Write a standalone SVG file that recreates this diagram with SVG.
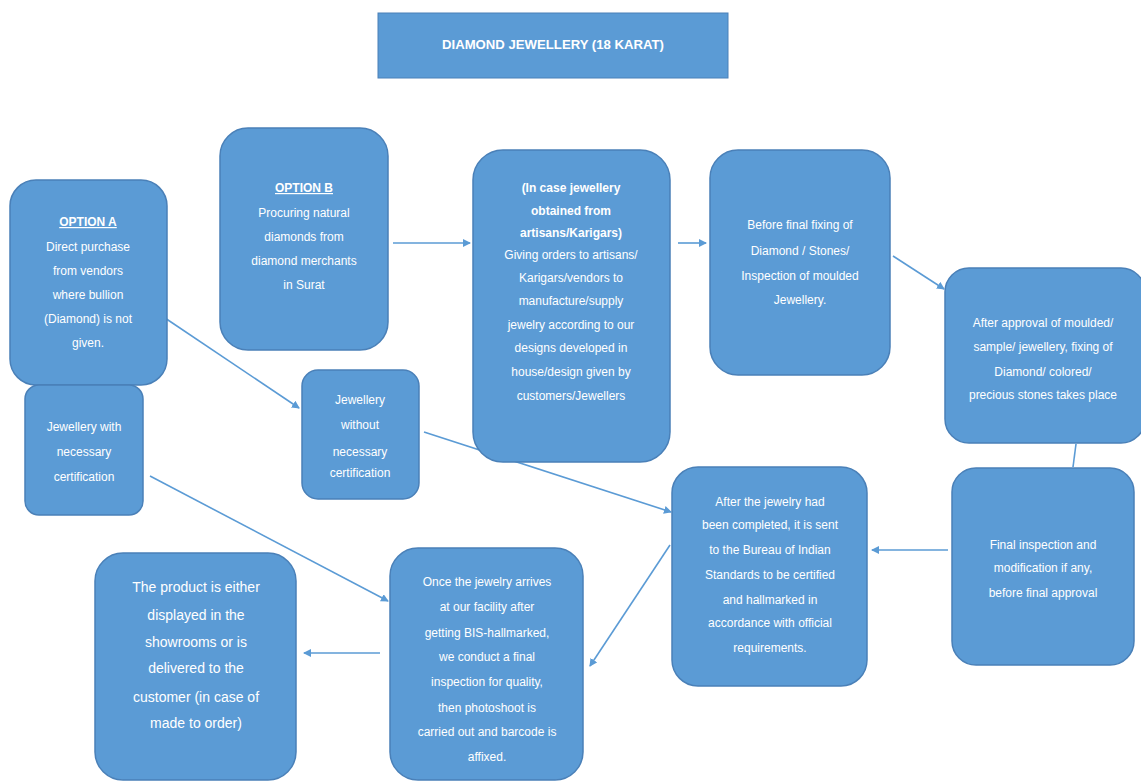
<svg xmlns="http://www.w3.org/2000/svg" width="1141" height="783" viewBox="0 0 1141 783">
<style>
.box{fill:#5b9bd5;stroke:#4a80b8;stroke-width:1.5}
.t{font-family:"Liberation Sans",Arial,sans-serif;font-size:12px;fill:#ffffff;text-anchor:middle}
.b{font-weight:bold}
.u{text-decoration:underline}
.big{font-size:14px}
.c{stroke:#5b9bd5;stroke-width:1.6;fill:none;marker-end:url(#ah)}
</style>
<defs>
<marker id="ah" markerWidth="8" markerHeight="8" refX="7" refY="4" orient="auto" markerUnits="userSpaceOnUse">
<path d="M0,0 L8,4 L0,8 z" fill="#5b9bd5"/>
</marker>
</defs>
<rect width="1141" height="783" fill="#ffffff"/>

<g id="connectors">
<line class="c" x1="393" y1="243" x2="470" y2="243"/>
<line class="c" x1="678" y1="243" x2="706" y2="243"/>
<line class="c" x1="893" y1="256" x2="944" y2="289"/>
<line x1="1076" y1="444" x2="1073" y2="467" stroke="#5b9bd5" stroke-width="1.6"/>
<line class="c" x1="948" y1="550" x2="872" y2="550"/>
<line class="c" x1="670" y1="545" x2="590" y2="666"/>
<line class="c" x1="380" y1="653" x2="304" y2="653"/>
<line class="c" x1="165" y1="318" x2="299" y2="408"/>
<line class="c" x1="424" y1="432" x2="671" y2="512"/>
<line class="c" x1="150" y1="476" x2="388" y2="601"/>
</g>

<g id="title">
<rect x="378" y="13" width="350" height="65" fill="#5b9bd5" stroke="#4a80b8" stroke-width="1"/>
<text class="t b" x="553" y="49" font-size="11.5" textLength="222" lengthAdjust="spacingAndGlyphs">DIAMOND JEWELLERY (18 KARAT)</text>
</g>

<g id="optionA">
<rect class="box" x="10" y="180" width="157" height="205" rx="26"/>
<text class="t b u" x="88" y="226">OPTION A</text>
<text class="t" x="88" y="251">Direct purchase</text>
<text class="t" x="88" y="275">from vendors</text>
<text class="t" x="88" y="299">where bullion</text>
<text class="t" x="88" y="323">(Diamond) is not</text>
<text class="t" x="88" y="347">given.</text>
</g>

<g id="optionB">
<rect class="box" x="220" y="128" width="168" height="222" rx="28"/>
<text class="t b u" x="304" y="192">OPTION B</text>
<text class="t" x="304" y="217">Procuring natural</text>
<text class="t" x="304" y="241">diamonds from</text>
<text class="t" x="304" y="265">diamond merchants</text>
<text class="t" x="304" y="289">in Surat</text>
</g>

<g id="artisans">
<rect class="box" x="473" y="150" width="197" height="312" rx="30"/>
<text class="t b" x="571" y="192">(In case jewellery</text>
<text class="t b" x="571" y="215">obtained from</text>
<text class="t b" x="571" y="237">artisans/Karigars)</text>
<text class="t" x="571" y="259">Giving orders to artisans/</text>
<text class="t" x="571" y="282">Karigars/vendors to</text>
<text class="t" x="571" y="305">manufacture/supply</text>
<text class="t" x="571" y="329">jewelry according to our</text>
<text class="t" x="571" y="352">designs developed in</text>
<text class="t" x="571" y="376">house/design given by</text>
<text class="t" x="571" y="400">customers/Jewellers</text>
</g>

<g id="beforeFixing">
<rect class="box" x="710" y="150" width="180" height="225" rx="28"/>
<text class="t" x="800" y="229">Before final fixing of</text>
<text class="t" x="800" y="255">Diamond / Stones/</text>
<text class="t" x="800" y="280">Inspection of moulded</text>
<text class="t" x="800" y="304">Jewellery.</text>
</g>

<g id="afterApproval">
<rect class="box" x="945" y="268" width="200" height="175" rx="24"/>
<text class="t" x="1043" y="327">After approval of moulded/</text>
<text class="t" x="1043" y="351">sample/ jewellery, fixing of</text>
<text class="t" x="1043" y="376">Diamond/ colored/</text>
<text class="t" x="1043" y="399">precious stones takes place</text>
</g>

<g id="withCert">
<rect class="box" x="25" y="385" width="118" height="130" rx="14"/>
<text class="t" x="84" y="431">Jewellery with</text>
<text class="t" x="84" y="456">necessary</text>
<text class="t" x="84" y="481">certification</text>
</g>

<g id="withoutCert">
<rect class="box" x="302" y="370" width="117" height="129" rx="16"/>
<text class="t" x="360" y="404">Jewellery</text>
<text class="t" x="360" y="429">without</text>
<text class="t" x="360" y="456">necessary</text>
<text class="t" x="360" y="477">certification</text>
</g>

<g id="bis">
<rect class="box" x="672" y="467" width="195" height="219" rx="26"/>
<text class="t" x="770" y="506">After the jewelry had</text>
<text class="t" x="770" y="529">been completed, it is sent</text>
<text class="t" x="770" y="554">to the Bureau of Indian</text>
<text class="t" x="770" y="579">Standards to be certified</text>
<text class="t" x="770" y="604">and hallmarked in</text>
<text class="t" x="770" y="627">accordance with official</text>
<text class="t" x="770" y="652">requirements.</text>
</g>

<g id="finalInspection">
<rect class="box" x="952" y="468" width="182" height="197" rx="24"/>
<text class="t" x="1043" y="549">Final inspection and</text>
<text class="t" x="1043" y="572">modification if any,</text>
<text class="t" x="1043" y="597">before final approval</text>
</g>

<g id="facility">
<rect class="box" x="390" y="548" width="193" height="232" rx="28"/>
<text class="t" x="487" y="586">Once the jewelry arrives</text>
<text class="t" x="487" y="611">at our facility after</text>
<text class="t" x="487" y="637">getting BIS-hallmarked,</text>
<text class="t" x="487" y="661">we conduct a final</text>
<text class="t" x="487" y="686">inspection for quality,</text>
<text class="t" x="487" y="712">then photoshoot is</text>
<text class="t" x="487" y="736">carried out and barcode is</text>
<text class="t" x="487" y="761">affixed.</text>
</g>

<g id="product">
<rect class="box" x="95" y="553" width="201" height="227" rx="28"/>
<text class="t big" x="196" y="592">The product is either</text>
<text class="t big" x="196" y="620">displayed in the</text>
<text class="t big" x="196" y="647">showrooms or is</text>
<text class="t big" x="196" y="673">delivered to the</text>
<text class="t big" x="196" y="702">customer (in case of</text>
<text class="t big" x="196" y="728">made to order)</text>
</g>
</svg>
